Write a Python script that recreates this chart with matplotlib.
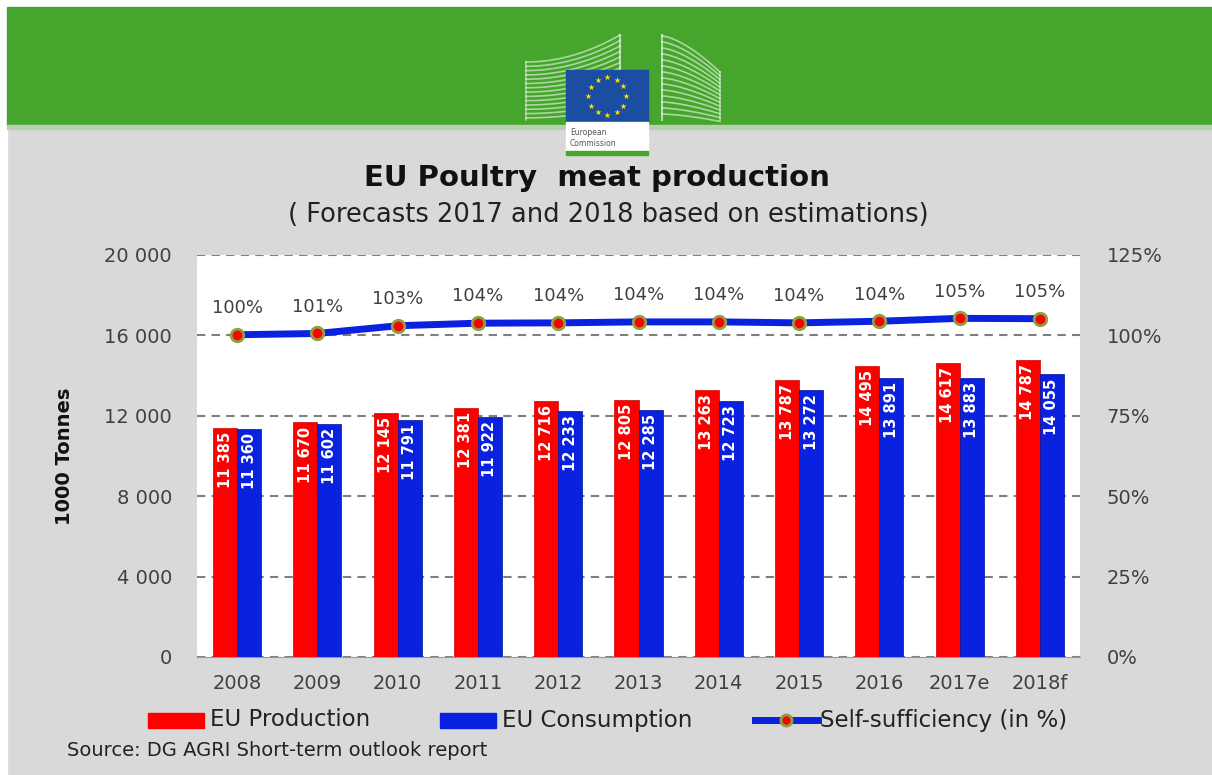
import numpy as np
import matplotlib.pyplot as plt
from matplotlib.patches import Rectangle
from matplotlib.lines import Line2D

# data
years = ["2008", "2009", "2010", "2011", "2012", "2013", "2014", "2015", "2016", "2017e", "2018f"]
production = [11385, 11670, 12145, 12381, 12716, 12805, 13263, 13787, 14495, 14617, 14787]
consumption = [11360, 11602, 11791, 11922, 12233, 12285, 12723, 13272, 13891, 13883, 14055]
self_suff = [100.2, 100.6, 103.0, 103.8, 103.9, 104.2, 104.2, 103.9, 104.4, 105.3, 105.2]
self_suff_labels = ["100%", "101%", "103%", "104%", "104%", "104%", "104%", "104%", "104%", "105%", "105%"]

W, H = 1212, 775
grey_bg = "#d9d9d9"
green = "#45a52d"
red = "#ff0000"
blue = "#0a22e0"
txt = "#404040"

fig = plt.figure(figsize=(W / 100, H / 100), dpi=100)
fig.patch.set_facecolor(grey_bg)

# overlay in pixel coordinates for banner, logo, titles and legend
deco = fig.add_axes([0, 0, 1, 1], zorder=0)
deco.set_xlim(0, W)
deco.set_ylim(H, 0)
deco.axis("off")

# white borders and green banner
deco.add_patch(Rectangle((0, 0), W, 7, color="white"))
deco.add_patch(Rectangle((0, 0), 7, H, color="white"))
deco.add_patch(Rectangle((7, 7), W - 7, 118, color=green))
deco.add_patch(Rectangle((7, 125), W - 7, 4, color="#b8cfb0"))

# building silhouettes (decorative)
for i in range(14):
    y0 = 62 + i * 4.3
    xs = np.linspace(526, 620, 30)
    ys = y0 - (xs - 526) / 94 * (27 - i * 1.2) * ((xs - 526) / 94)
    deco.plot(xs, ys, color="white", lw=1.2, alpha=0.55)
deco.plot([620, 620], [35, 120], color="white", lw=1.5, alpha=0.6)
deco.plot([526, 526], [62, 120], color="white", lw=1.2, alpha=0.5)
for i in range(14):
    y0 = 36 + i * 6
    xs = np.linspace(662, 720, 30)
    ys = y0 + ((xs - 662) / 58) ** 1.5 * (36 - i * 2.2)
    deco.plot(xs, ys, color="white", lw=1.2, alpha=0.55)
deco.plot([662, 662], [35, 120], color="white", lw=1.5, alpha=0.6)
deco.plot([720, 720], [72, 120], color="white", lw=1.2, alpha=0.5)

# EU flag logo
deco.add_patch(Rectangle((566, 70), 82, 52, color="#1b4da0", zorder=3))
deco.add_patch(Rectangle((566, 122), 82, 30, color="white", zorder=3))
deco.add_patch(Rectangle((566, 151), 82, 4, color=green, zorder=3))
ang = np.linspace(0, 2 * np.pi, 13)[:-1]
deco.scatter(607 + 19 * np.cos(ang), 96 + 19 * np.sin(ang), marker="*", s=22,
             color="#ffdd00", zorder=4, linewidths=0)
deco.text(570, 138, "European\nCommission", fontsize=5.5, color="#555555",
          va="center", ha="left", zorder=4, linespacing=1.3)

# titles
deco.text(597, 178, "EU Poultry  meat production", fontsize=21, fontweight="bold",
          color="#111111", ha="center", va="center")
deco.text(608, 215, "( Forecasts 2017 and 2018 based on estimations)", fontsize=18.5,
          color="#222222", ha="center", va="center")

# main chart
L, R, T, B = 197, 1080, 255, 657
ax = fig.add_axes([L / W, 1 - B / H, (R - L) / W, (B - T) / H], zorder=2)
ax.set_facecolor("white")
x = np.arange(len(years))
bw = 0.3
ax.bar(x - bw / 2, production, width=bw, color=red, edgecolor="#cc0000", linewidth=0.5, zorder=3)
ax.bar(x + bw / 2, consumption, width=bw, color=blue, edgecolor="#0010a0", linewidth=0.5, zorder=3)
for xi, p, c in zip(x, production, consumption):
    ax.text(xi - bw / 2, p - 200, f"{p:,}".replace(",", " "), rotation=90, color="white",
            fontsize=10.5, fontweight="bold", ha="center", va="top", zorder=4)
    ax.text(xi + bw / 2, c - 200, f"{c:,}".replace(",", " "), rotation=90, color="white",
            fontsize=10.5, fontweight="bold", ha="center", va="top", zorder=4)

ax.set_xlim(-0.5, len(years) - 0.5)
ax.set_ylim(0, 20000)
ax.set_yticks(range(0, 20001, 4000))
ax.set_yticklabels([f"{v:,}".replace(",", " ") for v in range(0, 20001, 4000)],
                   fontsize=14, color=txt)
ax.set_xticks(x)
ax.set_xticklabels(years, fontsize=14, color=txt)
ax.tick_params(length=0, pad=12)
ax.tick_params(axis="y", pad=18)
ax.grid(axis="y", linestyle=(0, (4, 3)), color="#7f7f7f", linewidth=1.5, zorder=0)
ax.set_axisbelow(True)
for s in ["left", "right", "top"]:
    ax.spines[s].set_visible(False)
ax.spines["bottom"].set_color("#999999")
ax.set_ylabel("1000 Tonnes", fontsize=14, fontweight="bold", color="#111111", labelpad=22)

ax2 = ax.twinx()
ax2.set_ylim(0, 125)
ax2.set_yticks(range(0, 126, 25))
ax2.set_yticklabels([f"{v}%" for v in range(0, 126, 25)], fontsize=14, color=txt)
ax2.tick_params(length=0, pad=19)
for s in ax2.spines.values():
    s.set_visible(False)
ax2.plot(x, self_suff, color=blue, lw=5, zorder=5, marker="o", markersize=9,
         markerfacecolor=red, markeredgecolor="#8fa040", markeredgewidth=2)
for xi, v, lab in zip(x, self_suff, self_suff_labels):
    ax2.text(xi, v + 5.5, lab, ha="center", va="bottom", fontsize=13, color=txt)

# legend
deco.add_patch(Rectangle((148, 713), 56, 15, color=red))
deco.text(210, 720, "EU Production", fontsize=16.5, color="#222222", va="center")
deco.add_patch(Rectangle((440, 713), 56, 15, color=blue))
deco.text(502, 720, "EU Consumption", fontsize=16.5, color="#222222", va="center")
deco.add_line(Line2D([755, 818], [720, 720], color=blue, lw=5))
deco.plot([786], [720], marker="o", markersize=8, markerfacecolor=red,
          markeredgecolor="#8fa040", markeredgewidth=2)
deco.text(820, 720, "Self-sufficiency (in %)", fontsize=16.5, color="#222222", va="center")
deco.text(67, 750, "Source: DG AGRI Short-term outlook report", fontsize=14,
          color="#222222", va="center")

fig.savefig("out.png", dpi=100, facecolor=fig.get_facecolor())
